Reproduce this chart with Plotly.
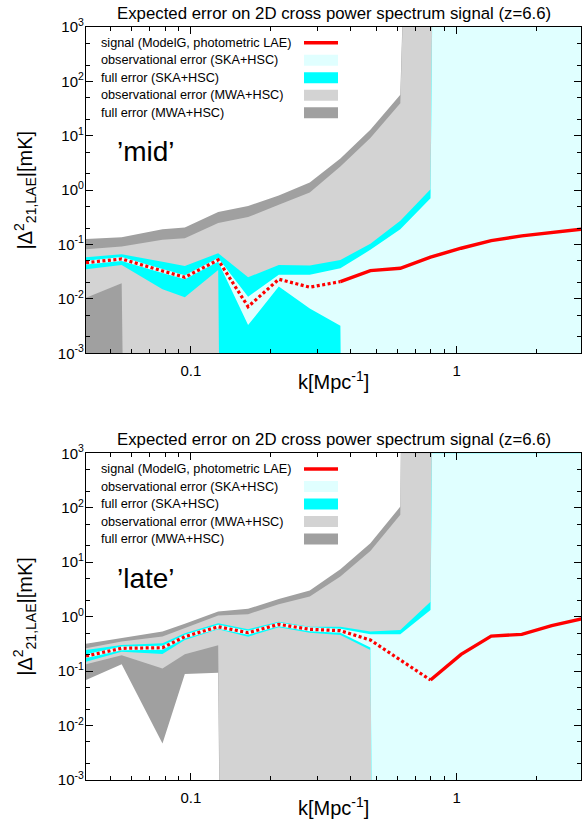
import math
import plotly.graph_objects as go

# ---------------- data ----------------
FLOOR = 1e-60   # band edge where the value is negative / undefined on a log axis
CEIL = 1e60     # band edge that is far off the top of the axis
F, C = FLOOR, CEIL

k = [0.0403, 0.0549, 0.0782, 0.0949, 0.1267, 0.1642, 0.2142, 0.2802, 0.3654,
     0.4738, 0.6142, 0.798, 1.04, 1.35, 1.76, 2.28, 2.96]

# ---- 'mid' panel ----
mid_signal = [0.0465, 0.0543, 0.0327, 0.025, 0.0521, 0.0072, 0.023, 0.0164, 0.0208,
              0.0331, 0.0366, 0.0585, 0.0855, 0.118, 0.144, 0.168, 0.192]
mid_negative = [True] * 8 + [False] * 9
mid_ska_obs_lo = [0.0428, 0.050, 0.030, 0.023, 0.048, 0.0033, 0.0169, 0.0067, 0.0032,
                  F, F, F, F, F, F, F, F]
mid_ska_obs_hi = [0.0505, 0.059, 0.0355, 0.0272, 0.0565, 0.011, 0.0277, 0.0277, 0.0366,
                  0.0798, 0.191, 0.713, C, C, C, C, C]
mid_ska_full_lo = [0.0351, 0.0422, 0.015, 0.0107, 0.0341, F, F, F, F,
                   F, F, F, F, F, F, F, F]
mid_ska_full_hi = [0.0585, 0.0664, 0.048, 0.0405, 0.0692, 0.025, 0.0422, 0.041, 0.0521,
                   0.103, 0.273, 1.04, C, C, C, C, C]
mid_mwa_obs_lo = [0.0105, 0.0194, F, F, F, F, F, F, F, F, F, F, F, F, F, F, F]
mid_mwa_obs_hi = [0.082, 0.092, 0.122, 0.13, 0.25, 0.32, 0.537, 0.906, 2.73,
                  9.06, 39.8, C, C, C, C, C, C]
mid_mwa_full_lo = [F] * 17
mid_mwa_full_hi = [0.126, 0.136, 0.191, 0.205, 0.395, 0.51, 0.80, 1.38, 3.8,
                   12.9, 57.0, C, C, C, C, C, C]

# ---- 'late' panel ----
late_signal = [0.189, 0.262, 0.269, 0.429, 0.653, 0.507, 0.722, 0.586, 0.552,
               0.372, 0.16, 0.0687, 0.203, 0.44, 0.473, 0.682, 0.91]
late_negative = [True] * 11 + [False] * 6
late_ska_obs_lo = [0.174, 0.241, 0.247, 0.395, 0.60, 0.466, 0.664, 0.539, 0.508,
                   0.27, F, F, F, F, F, F, F]
late_ska_obs_hi = [0.205, 0.284, 0.292, 0.466, 0.71, 0.55, 0.784, 0.636, 0.599,
                   0.474, 0.474, 1.32, C, C, C, C, C]
late_ska_full_lo = [0.149, 0.227, 0.206, 0.372, 0.586, 0.429, 0.637, 0.507, 0.46,
                    0.244, F, F, F, F, F, F, F]
late_ska_full_hi = [0.244, 0.301, 0.323, 0.494, 0.755, 0.586, 0.807, 0.653, 0.653,
                    0.535, 0.569, 1.88, C, C, C, C, C]
late_mwa_obs_lo = [0.133, 0.195, 0.112, 0.205, 0.298, F, F, F, F, F, F, F, F, F, F, F, F]
late_mwa_obs_hi = [0.264, 0.35, 0.433, 0.615, 1.05, 1.11, 1.69, 2.34, 5.45,
                   16.1, 74.0, C, C, C, C, C, C]
late_mwa_full_lo = [0.0687, 0.133, 0.0047, 0.0885, 0.0934, F, F, F, F, F, F, F, F, F, F, F, F]
late_mwa_full_hi = [0.318, 0.404, 0.535, 0.74, 1.24, 1.39, 2.12, 3.02, 7.4,
                    22.3, 105.0, C, C, C, C, C, C]

legend_labels = ["signal (ModelG, photometric LAE)", "observational error (SKA+HSC)",
                 "full error (SKA+HSC)", "observational error (MWA+HSC)",
                 "full error (MWA+HSC)"]
panel_title = "Expected error on 2D cross power spectrum signal (z=6.6)"
panel_tags = ["\u2019mid\u2019", "\u2019late\u2019"]
x_tickvals = [0.1, 1]
x_ticktext = ["0.1", "1"]
y_exponents = [-3, -2, -1, 0, 1, 2, 3]

# ---------------- styling ----------------
RED = "#ff0000"
CYAN = "#00ffff"
LCYAN = "#e0ffff"
LGRAY = "#d3d3d3"
DGRAY = "#a0a0a0"
FONT = "Liberation Sans, Arial, sans-serif"

W, H = 583, 828
ML, MR, MT, MB = 86, 2, 27, 48
PW, PH = W - ML - MR, H - MT - MB


def px(x):
    return (x - ML) / PW


def py(y):
    return (H - MB - y) / PH


fig = go.Figure()


def band(lo, hi, color, ax):
    fig.add_trace(go.Scatter(
        x=k + k[::-1], y=hi + lo[::-1], mode="lines", fill="toself",
        fillcolor=color, line=dict(width=0), hoverinfo="skip", showlegend=False,
        xaxis="x" + ax, yaxis="y" + ax))


def signal(vals, neg, ax):
    last = max(i for i, n in enumerate(neg) if n) + 1
    fig.add_trace(go.Scatter(
        x=k[:last + 1], y=vals[:last + 1], mode="lines",
        line=dict(color=RED, width=3.2, dash="3px,2.5px"),
        hoverinfo="skip", showlegend=False, xaxis="x" + ax, yaxis="y" + ax))
    fig.add_trace(go.Scatter(
        x=k[last:], y=vals[last:], mode="lines",
        line=dict(color=RED, width=3.4),
        hoverinfo="skip", showlegend=False, xaxis="x" + ax, yaxis="y" + ax))


panels = [
    ("", mid_signal, mid_negative, mid_ska_obs_lo, mid_ska_obs_hi, mid_ska_full_lo,
     mid_ska_full_hi, mid_mwa_obs_lo, mid_mwa_obs_hi, mid_mwa_full_lo, mid_mwa_full_hi),
    ("2", late_signal, late_negative, late_ska_obs_lo, late_ska_obs_hi, late_ska_full_lo,
     late_ska_full_hi, late_mwa_obs_lo, late_mwa_obs_hi, late_mwa_full_lo, late_mwa_full_hi),
]
for (ax, sig, neg, so_lo, so_hi, sf_lo, sf_hi, mo_lo, mo_hi, mf_lo, mf_hi) in panels:
    band(mf_lo, mf_hi, DGRAY, ax)
    band(mo_lo, mo_hi, LGRAY, ax)
    band(sf_lo, sf_hi, CYAN, ax)
    band(so_lo, so_hi, LCYAN, ax)
    signal(sig, neg, ax)

# ---------------- axes ----------------
x_minor = [m * 10 ** e for e in (-2, -1, 0) for m in range(2, 10)]
y_minor = [m * 10.0 ** e for e in range(-3, 3) for m in (2, 5)]
y_text = ["10<sup>%d</sup>" % e for e in y_exponents]
y_vals = [10.0 ** e for e in y_exponents]

xcommon = dict(type="log", range=[math.log10(0.0403), math.log10(2.94)],
               tickmode="array", tickvals=x_tickvals, ticktext=x_ticktext,
               ticks="inside", ticklen=7, tickwidth=1, tickcolor="black",
               showline=True, linecolor="black", linewidth=1.3, mirror="ticks",
               showgrid=False, zeroline=False, ticklabelstandoff=4,
               tickfont=dict(family=FONT, size=15, color="black"),
               minor=dict(ticks="inside", ticklen=4, tickwidth=1, tickcolor="black",
                          tickvals=x_minor, showgrid=False))
ycommon = dict(type="log", range=[-3, 3], tickmode="array", tickvals=y_vals,
               ticktext=y_text, ticks="inside", ticklen=7, tickwidth=1,
               tickcolor="black", showline=True, linecolor="black", linewidth=1.3,
               mirror="ticks", showgrid=False, zeroline=False, ticklabelstandoff=-2,
               tickfont=dict(family=FONT, size=15, color="black"),
               minor=dict(ticks="inside", ticklen=4, tickwidth=1, tickcolor="black",
                          tickvals=y_minor, showgrid=False))

top_bottom_px, bot_top_px = 353.3, 453.3
fig.update_layout(
    width=W, height=H, margin=dict(l=ML, r=MR, t=MT, b=MB),
    paper_bgcolor="white", plot_bgcolor="white", showlegend=False,
    xaxis=dict(xcommon, anchor="y"),
    yaxis=dict(ycommon, domain=[py(top_bottom_px), 1], anchor="x"),
    xaxis2=dict(xcommon, anchor="y2"),
    yaxis2=dict(ycommon, domain=[0, py(bot_top_px)], anchor="x2"),
)

# ---------------- texts & legends ----------------
ann = []
shapes = []
offsets = [0, bot_top_px - MT]
for pi, off in enumerate(offsets):
    ann.append(dict(text=panel_title, x=px(333.5), y=py(13 + off), xref="paper",
                    yref="paper", xanchor="center", yanchor="middle", showarrow=False,
                    font=dict(family=FONT, size=16.8, color="black")))
    ann.append(dict(text="k[Mpc<sup>-1</sup>]", x=px(333.5), y=py(380 + off),
                    xref="paper", yref="paper", xanchor="center", yanchor="middle",
                    showarrow=False, font=dict(family=FONT, size=20, color="black")))
    ann.append(dict(text="|\u0394<sup>2</sup><sub>21,LAE</sub>|[mK]", x=px(25),
                    y=py(190.5 + off), xref="paper", yref="paper", textangle=-90,
                    xanchor="center", yanchor="middle", showarrow=False,
                    font=dict(family=FONT, size=20, color="black")))
    ann.append(dict(text=panel_tags[pi], x=px(115), y=py(152 + off), xref="paper",
                    yref="paper", xanchor="left", yanchor="middle", showarrow=False,
                    font=dict(family=FONT, size=28, color="black")))
    swatch = [RED, LCYAN, CYAN, LGRAY, DGRAY]
    for i, lab in enumerate(legend_labels):
        yc = 42.7 + 17.5 * i + off
        ann.append(dict(text=lab, x=px(99), y=py(yc), xref="paper", yref="paper",
                        xanchor="left", yanchor="middle", showarrow=False,
                        font=dict(family=FONT, size=12.7, color="black")))
        if i == 0:
            shapes.append(dict(type="line", xref="paper", yref="paper",
                               x0=px(304), x1=px(338), y0=py(yc), y1=py(yc),
                               line=dict(color=RED, width=3.4)))
        else:
            shapes.append(dict(type="rect", xref="paper", yref="paper",
                               x0=px(304), x1=px(338), y0=py(yc - 5.5), y1=py(yc + 5.5),
                               fillcolor=swatch[i], line=dict(width=0)))

fig.update_layout(annotations=ann, shapes=shapes)
fig.write_html("out.html")
